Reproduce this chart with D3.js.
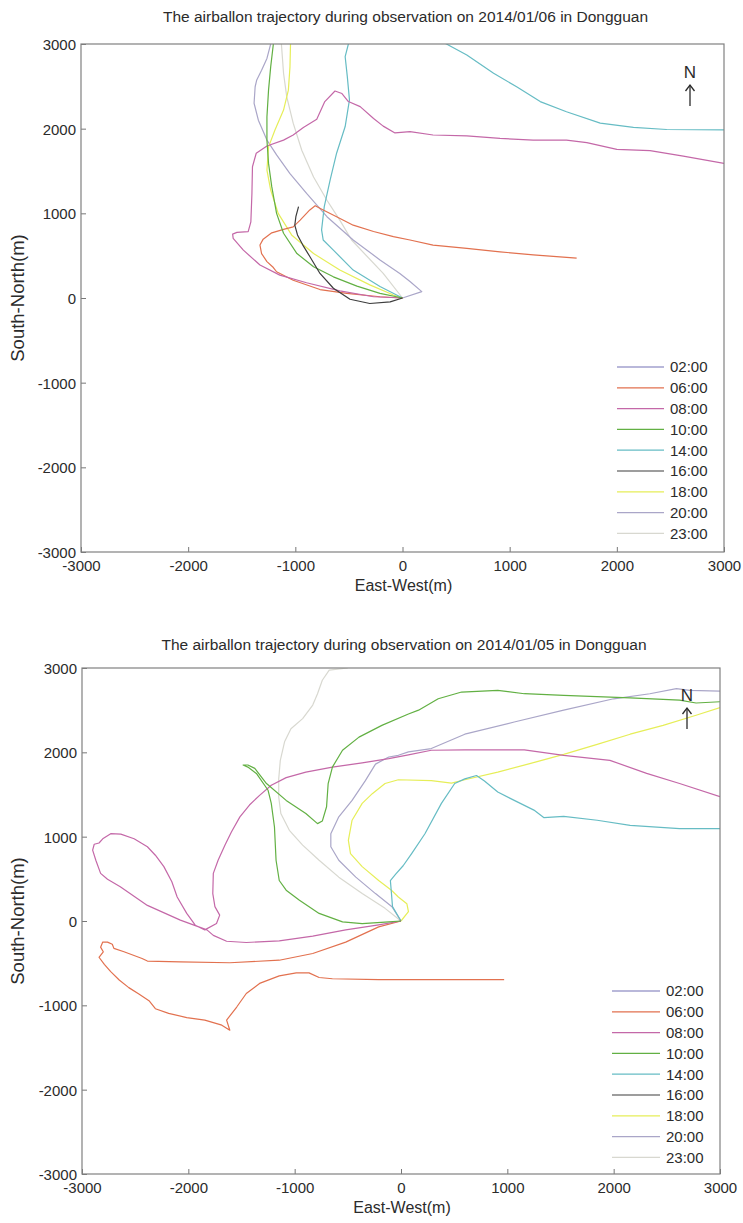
<!DOCTYPE html>
<html>
<head>
<meta charset="utf-8">
<script src="https://cdn.jsdelivr.net/npm/d3@7"></script>
<style>
  body { margin: 0; background: #fff; }
  svg text { font-family: "Liberation Sans", Arial, sans-serif; fill: #2b2b2b; }
</style>
</head>
<body>
<svg id="chart" width="743" height="1223"></svg>
<script>
// Launch times shown in each legend
const launchTimes = ["02:00", "06:00", "08:00", "10:00", "14:00", "16:00", "18:00", "20:00", "23:00"];
const axisTicks = [-3000, -2000, -1000, 0, 1000, 2000, 3000];
const titles = [
  "The airballon trajectory during observation on 2014/01/06 in Dongguan",
  "The airballon trajectory during observation on 2014/01/05 in Dongguan"
];

// ---- 2014/01/06 balloon tracks, [east-west (m), south-north (m)] ----
const jan06_0200 = [];
const jan06_0600 = [[0,0],[-210,15],[-520,55],[-770,100],[-1020,210],[-1175,310],[-1205,360],[-1265,430],[-1315,525],[-1330,625],[-1300,695],[-1220,770],[-1110,810],[-1020,840],[-955,920],[-865,1040],[-815,1090],[-740,1040],[-615,960],[-460,860],[-270,785],[-85,725],[70,685],[285,625],[600,585],[910,545],[1220,510],[1625,470]];
const jan06_0800 = [[0,0],[-270,15],[-585,85],[-895,180],[-1145,270],[-1330,390],[-1485,565],[-1580,705],[-1585,755],[-1545,775],[-1440,785],[-1415,900],[-1405,1235],[-1400,1550],[-1365,1710],[-1265,1795],[-1110,1865],[-1020,1925],[-925,2015],[-800,2110],[-725,2320],[-630,2445],[-565,2415],[-505,2320],[-395,2260],[-270,2120],[-180,2030],[-70,1950],[70,1965],[285,1925],[600,1915],[910,1885],[1220,1865],[1530,1865],[1720,1835],[2000,1755],[2310,1740],[2620,1675],[3000,1590]];
const jan06_1000 = [[0,0],[-210,55],[-425,140],[-645,250],[-830,370],[-985,525],[-1110,765],[-1175,1000],[-1220,1315],[-1250,1590],[-1265,1865],[-1265,2140],[-1250,2455],[-1230,2730],[-1205,3000]];
const jan06_1400 = [[0,0],[-210,135],[-460,330],[-645,565],[-740,685],[-755,805],[-730,1080],[-675,1395],[-615,1710],[-535,2025],[-495,2340],[-515,2615],[-535,2850],[-505,3000],[-420,3200],[0,3300],[410,3000],[600,2870],[850,2655],[1065,2495],[1285,2320],[1530,2200],[1845,2065],[2155,2015],[2465,1990],[3000,1985]];
const jan06_1600 = [[0,0],[-115,-45],[-305,-65],[-490,-15],[-645,115],[-770,290],[-865,490],[-930,625],[-980,745],[-1005,860],[-995,960],[-970,1080]];
const jan06_1800 = [[0,0],[-85,35],[-305,155],[-585,330],[-830,525],[-1035,745],[-1160,1000],[-1230,1275],[-1265,1510],[-1250,1785],[-1190,1985],[-1110,2220],[-1065,2455],[-1050,2730],[-1045,3000]];
const jan06_2000 = [[0,0],[180,75],[70,195],[-25,290],[-210,450],[-460,685],[-705,960],[-895,1235],[-1050,1470],[-1175,1690],[-1265,1865],[-1345,2100],[-1385,2300],[-1375,2495],[-1360,2575],[-1315,2690],[-1265,2830],[-1230,3000]];
const jan06_2300 = [[0,0],[-180,290],[-475,685],[-585,920],[-705,1155],[-830,1430],[-940,1745],[-1020,2065],[-1080,2375],[-1110,2655],[-1130,3000]];

// ---- 2014/01/05 balloon tracks ----
const jan05_0200 = [];
const jan05_0600 = [[0,0],[-210,-70],[-520,-250],[-830,-385],[-1145,-465],[-1610,-495],[-2075,-485],[-2385,-475],[-2435,-445],[-2605,-365],[-2700,-325],[-2715,-275],[-2760,-250],[-2805,-250],[-2825,-310],[-2800,-365],[-2840,-430],[-2790,-515],[-2730,-600],[-2650,-700],[-2560,-790],[-2465,-865],[-2370,-945],[-2310,-1040],[-2185,-1095],[-2015,-1145],[-1845,-1175],[-1685,-1235],[-1610,-1295],[-1640,-1175],[-1545,-1020],[-1455,-860],[-1330,-740],[-1145,-650],[-985,-615],[-865,-615],[-770,-670],[-645,-685],[-210,-695],[410,-695],[970,-695]];
const jan05_0800 = [[0,0],[-210,-45],[-520,-105],[-830,-180],[-1145,-235],[-1455,-255],[-1640,-240],[-1765,-170],[-1825,-105],[-2075,10],[-2385,185],[-2640,405],[-2760,495],[-2825,565],[-2870,720],[-2900,840],[-2885,910],[-2840,925],[-2805,975],[-2730,1035],[-2635,1030],[-2510,975],[-2385,880],[-2310,780],[-2230,645],[-2155,465],[-2105,285],[-2015,90],[-1935,-50],[-1845,-105],[-1735,-30],[-1705,70],[-1750,170],[-1770,325],[-1765,565],[-1720,720],[-1655,900],[-1595,1055],[-1515,1235],[-1425,1375],[-1330,1490],[-1220,1610],[-1080,1700],[-895,1765],[-645,1825],[-365,1875],[-115,1925],[70,1970],[285,2025],[600,2030],[1160,2030],[1530,1965],[1965,1905],[2310,1750],[2620,1630],[3000,1475]];
const jan05_1000 = [[0,0],[-115,-10],[-365,-30],[-550,-10],[-770,90],[-955,245],[-1080,365],[-1145,480],[-1175,720],[-1190,1115],[-1220,1395],[-1250,1550],[-1360,1750],[-1440,1825],[-1485,1850],[-1440,1850],[-1375,1810],[-1265,1630],[-1080,1430],[-895,1275],[-785,1155],[-740,1185],[-700,1355],[-685,1630],[-645,1825],[-550,2025],[-395,2180],[-180,2320],[70,2455],[165,2500],[350,2635],[570,2715],[910,2735],[1160,2695],[1530,2675],[2155,2645],[2620,2620],[2775,2585],[3000,2600]];
const jan05_1400 = [[0,0],[-80,170],[-90,330],[-100,480],[-50,555],[20,655],[100,800],[225,1035],[380,1395],[505,1630],[600,1685],[710,1725],[785,1660],[910,1530],[1065,1430],[1250,1315],[1345,1225],[1530,1240],[1845,1195],[2155,1135],[2620,1095],[3000,1095]];
const jan05_1600 = [];
const jan05_1800 = [[0,0],[70,110],[55,205],[-25,285],[-90,365],[-210,480],[-365,645],[-475,800],[-495,955],[-460,1195],[-365,1395],[-270,1510],[-150,1630],[-25,1675],[285,1665],[475,1635],[600,1675],[910,1765],[1220,1870],[1530,1975],[1845,2095],[2155,2215],[2465,2320],[2775,2440],[3000,2530]];
const jan05_2000 = [[0,0],[-85,170],[-240,325],[-425,520],[-585,720],[-660,880],[-660,1035],[-585,1235],[-460,1430],[-335,1665],[-240,1860],[-115,1945],[-25,1965],[70,2005],[285,2045],[600,2215],[1065,2360],[1530,2500],[2000,2635],[2340,2695],[2590,2755],[2715,2735],[3000,2725]];
const jan05_2300 = [[0,0],[-150,150],[-365,325],[-585,520],[-770,720],[-925,900],[-1050,1075],[-1130,1275],[-1150,1470],[-1150,1685],[-1135,1905],[-1095,2125],[-1035,2280],[-925,2400],[-830,2560],[-785,2695],[-740,2855],[-675,2975],[-500,3000]];

const jan06Tracks = [jan06_0200, jan06_0600, jan06_0800, jan06_1000, jan06_1400, jan06_1600, jan06_1800, jan06_2000, jan06_2300];
const jan05Tracks = [jan05_0200, jan05_0600, jan05_0800, jan05_1000, jan05_1400, jan05_1600, jan05_1800, jan05_2000, jan05_2300];

// ---- drawing ----
const trackColors = ["#7472b6", "#e2714f", "#c468a8", "#62b043", "#66bcc4", "#3d3d3d", "#e6ee58", "#aaa6c8", "#d8d8d0"];

const svg = d3.select("#chart");

const panels = [
  { title: titles[0], tracks: jan06Tracks, frame: { l: 81, r: 724, t: 44, b: 552 }, titleY: 22,
    legend: { x0: 617, x1: 664, tx: 670, y0: 367, dy: 20.8 }, north: { x: 690, y: 72 } },
  { title: titles[1], tracks: jan05Tracks, frame: { l: 82, r: 720, t: 668, b: 1174 }, titleY: 650,
    legend: { x0: 612, x1: 660, tx: 666, y0: 991, dy: 20.8 }, north: { x: 687, y: 695 } }
];

panels.forEach((p, pi) => {
  const f = p.frame;
  const g = svg.append("g");
  const x = d3.scaleLinear().domain([-3000, 3000]).range([f.l, f.r]);
  const y = d3.scaleLinear().domain([-3000, 3000]).range([f.b, f.t]);

  g.append("text")
    .attr("x", (f.l + f.r) / 2 + 3).attr("y", p.titleY)
    .attr("text-anchor", "middle").style("font-size", "15.5px")
    .text(p.title);

  // axes with inward ticks, plain hyphen minus in labels
  const fmt = d => String(d);
  const xAxis = g.append("g").attr("transform", `translate(0,${f.b})`)
    .call(d3.axisBottom(x).tickValues(axisTicks).tickSizeInner(-5).tickSizeOuter(0).tickPadding(8).tickFormat(fmt));
  const yAxis = g.append("g").attr("transform", `translate(${f.l},0)`)
    .call(d3.axisLeft(y).tickValues(axisTicks).tickSizeInner(-5).tickSizeOuter(0).tickPadding(5).tickFormat(fmt));
  [xAxis, yAxis].forEach(a => {
    a.select(".domain").remove();
    a.selectAll(".tick line").attr("stroke", "#777").attr("stroke-width", 1);
    a.selectAll(".tick text").style("font-size", "15px").attr("fill", "#2b2b2b")
      .style("font-family", '"Liberation Sans", Arial, sans-serif');
  });
  yAxis.selectAll(".tick text").attr("dy", "0.36em");

  g.append("text")
    .attr("x", (f.l + f.r) / 2 + 1).attr("y", f.b + 39)
    .attr("text-anchor", "middle").style("font-size", "16px")
    .text("East-West(m)");
  g.append("text")
    .attr("transform", `translate(24,${(f.t + f.b) / 2}) rotate(-90)`)
    .attr("text-anchor", "middle").style("font-size", "18.5px")
    .text("South-North(m)");

  // trajectories, clipped to the plot box
  const clipId = "plotClip" + pi;
  svg.append("defs").append("clipPath").attr("id", clipId)
    .append("rect").attr("x", f.l).attr("y", f.t).attr("width", f.r - f.l).attr("height", f.b - f.t);

  const line = d3.line().x(d => x(d[0])).y(d => y(d[1]));
  const tracksG = g.append("g").attr("clip-path", `url(#${clipId})`);
  // light tracks first so darker ones stay visible on top
  const order = [8, 7, 6, 4, 1, 2, 3, 5, 0];
  order.forEach(i => {
    const pts = p.tracks[i];
    if (!pts.length) return;
    tracksG.append("path")
      .attr("d", line(pts))
      .attr("fill", "none")
      .attr("stroke", trackColors[i])
      .attr("stroke-width", 1.2)
      .attr("stroke-linejoin", "round");
  });

  // frame
  g.append("rect")
    .attr("x", f.l).attr("y", f.t).attr("width", f.r - f.l).attr("height", f.b - f.t)
    .attr("fill", "none").attr("stroke", "#808080").attr("stroke-width", 1.2);

  // legend
  const lg = g.append("g");
  launchTimes.forEach((t, i) => {
    const ly = p.legend.y0 + i * p.legend.dy;
    lg.append("line")
      .attr("x1", p.legend.x0).attr("x2", p.legend.x1).attr("y1", ly).attr("y2", ly)
      .attr("stroke", trackColors[i]).attr("stroke-width", 1.2);
    lg.append("text")
      .attr("x", p.legend.tx).attr("y", ly).attr("dy", "0.36em")
      .style("font-size", "15px").text(t);
  });

  // north arrow
  const n = p.north;
  g.append("text").attr("x", n.x).attr("y", n.y + 6)
    .attr("text-anchor", "middle").style("font-size", "17px").text("N");
  g.append("line").attr("x1", n.x).attr("x2", n.x).attr("y1", n.y + 13).attr("y2", n.y + 34)
    .attr("stroke", "#2b2b2b").attr("stroke-width", 1.3);
  g.append("path")
    .attr("d", `M${n.x - 4.5},${n.y + 19}L${n.x},${n.y + 13}L${n.x + 4.5},${n.y + 19}`)
    .attr("fill", "none").attr("stroke", "#2b2b2b").attr("stroke-width", 1.3);
});
</script>
</body>
</html>
